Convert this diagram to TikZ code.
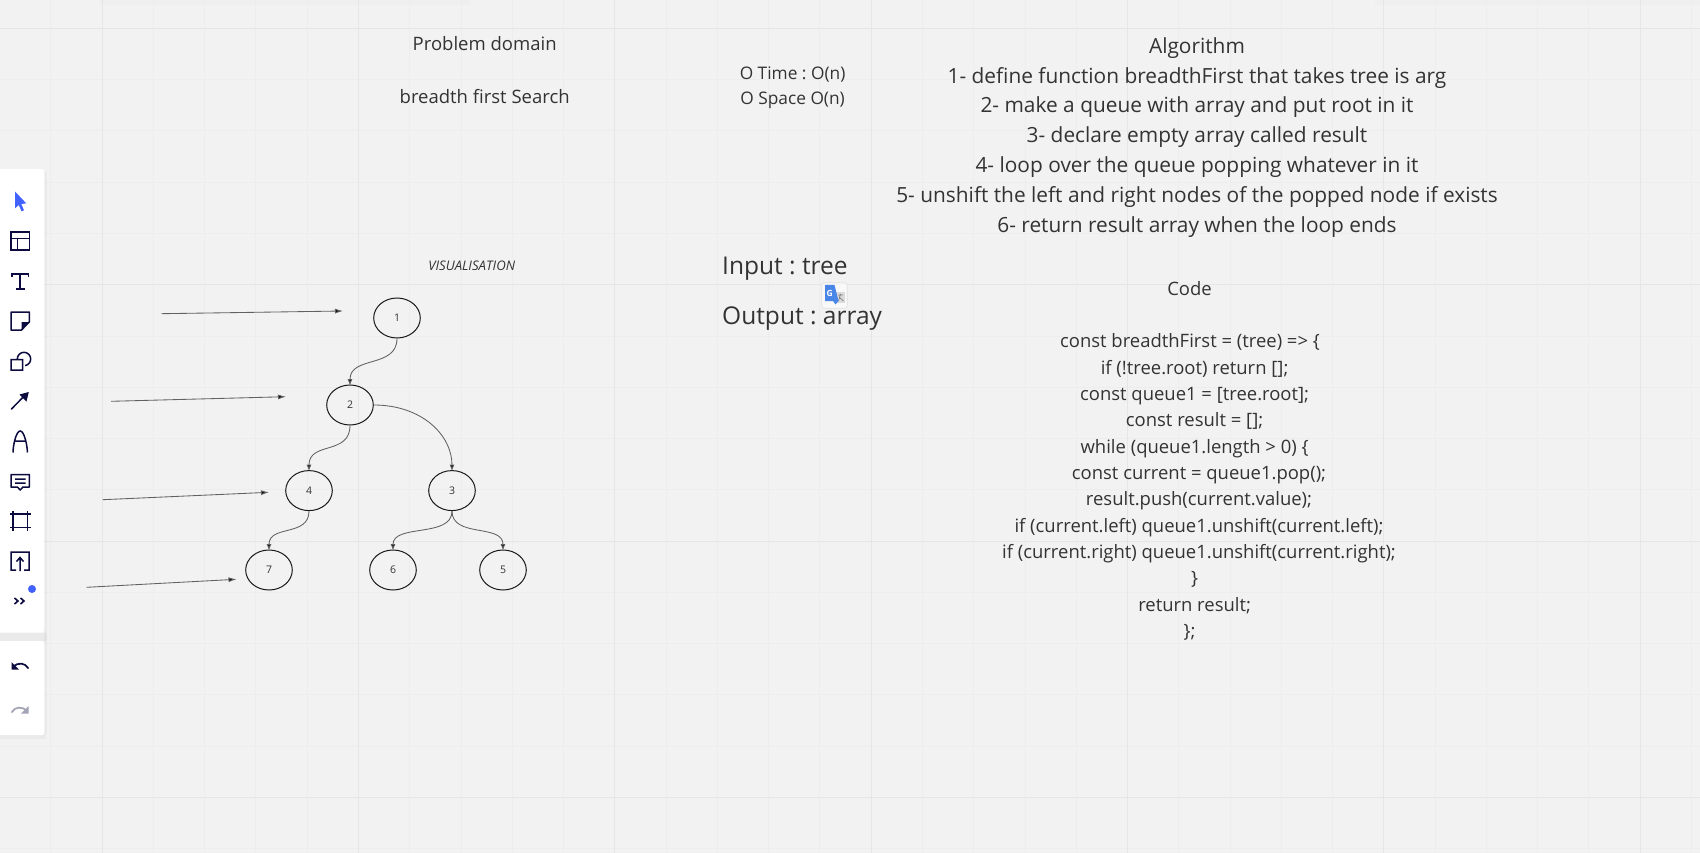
\documentclass[tikz,border=0pt]{standalone}
\usepackage{fontspec}
\setmainfont{Open Sans}
\usetikzlibrary{arrows.meta,shapes.geometric}
\frenchspacing
\definecolor{bgc}{HTML}{F2F2F2}
\definecolor{gridminor}{HTML}{EDEDED}
\definecolor{gridmajor}{HTML}{E6E6E6}
\definecolor{inkc}{HTML}{333333}
\definecolor{navy}{HTML}{0B0B3F}
\definecolor{blueic}{HTML}{4262FF}
\definecolor{greyic}{HTML}{A3A3B8}
\definecolor{gblue}{HTML}{4A86E8}
\tikzset{
  minorline/.style={gridminor,line width=.8pt},
  majorline/.style={gridmajor,line width=1pt},
  lbl/.style={text=inkc,inner sep=0,text height=.72em,text depth=.2em,align=center},
  treenode/.style={ellipse,draw=black!90,line width=1pt,minimum width=46.6pt,minimum height=40pt,inner sep=0,text=inkc,font=\fontsize{10.5}{12}\selectfont},
  edgeline/.style={draw=black!62,line width=.85pt,-{Latex[length=6.5pt,width=5pt,fill=black!92]}},
  freeline/.style={draw=black!62,line width=.85pt,-{Latex[length=8pt,width=5pt,fill=black!92]}},
  panel/.style={fill=white,rounded corners=2.5pt,draw=none},
  ic/.style={draw=navy,line width=1.5pt},
  problem/.style={lbl,font=\fontsize{18.5}{22}\selectfont},
  timetxt/.style={lbl,font=\fontsize{17.3}{20}\selectfont},
  algo/.style={lbl,font=\fontsize{20.86}{26}\selectfont},
  iotxt/.style={lbl,anchor=west,font=\fontsize{24.5}{30}\selectfont},
  codetxt/.style={lbl,font=\fontsize{18.45}{22}\selectfont},
}
\begin{document}
\begin{tikzpicture}[x=1pt,y=-1pt]
\useasboundingbox (0,0) rectangle (1700,853);
\fill[bgc] (0,0) rectangle (1700,853);
% top shadows
\fill[black,opacity=.012] (100,0) rectangle (470,5);
\fill[black,opacity=.012] (1375,0) rectangle (1700,5);
% grid
\foreach \i in {0,...,33}{
  \draw[minorline] ({-0.5+51.27*\i},0) -- ({-0.5+51.27*\i},853);
}
\foreach \i in {0,...,16}{
  \draw[minorline] (0,{28.3+51.27*(\i-0)}) -- (1700,{28.3+51.27*(\i-0)});
}
\foreach \i in {0,...,6}{
  \draw[majorline] ({102+256.35*\i},0) -- ({102+256.35*\i},853);
}
\foreach \i in {0,...,3}{
  \draw[majorline] (0,{28.3+256.35*\i}) -- (1700,{28.3+256.35*\i});
}
% top texts
\node[problem] (pd) at (484.7,47.8) {Problem domain};
\node[problem] (bfs) at (484.7,101) {breadth first Search};
\node[timetxt] (ot) at (792.6,77) {O Time : O(n)};
\node[timetxt] (os) at (792.6,102) {O Space O(n)};
\node[algo] (a0) at (1197,50.8) {Algorithm};
\node[algo] (a1) at (1197,80.6) {1- define function breadthFirst that takes tree is arg};
\node[algo] (a2) at (1197,110) {2- make a queue with array and put root in it};
\node[algo] (a3) at (1197,139.7) {3- declare empty array called result};
\node[algo] (a4) at (1197,170.2) {4- loop over the queue popping whatever in it};
\node[algo] (a5) at (1197,199.8) {5- unshift the left and right nodes of the popped node if exists};
\node[algo] (a6) at (1197,230) {6- return result array when the loop ends};
\node[lbl,font=\fontsize{13.2}{15}\selectfont\itshape] (vis) at (471.7,268) {VISUALISATION};
\node[iotxt] (inp) at (722,271.6) {Input : tree};
\node[iotxt] (outp) at (722,321.8) {Output : array};
% code
\node[codetxt] (c0) at (1189.5,292.7) {Code};
\node[codetxt] (c1) at (1190,344.7) {const breadthFirst = (tree) => \{};
\node[codetxt] (c2) at (1194.6,371.8) {if (!tree.root) return [];};
\node[codetxt] (c3) at (1194.6,397.8) {const queue1 = [tree.root];};
\node[codetxt] (c4) at (1194.6,423.8) {const result = [];};
\node[codetxt] (c5) at (1194.6,450.9) {while (queue1.length > 0) \{};
\node[codetxt] (c6) at (1199,476.9) {const current = queue1.pop();};
\node[codetxt] (c7) at (1199,502.9) {result.push(current.value);};
\node[codetxt] (c8) at (1199,530) {if (current.left) queue1.unshift(current.left);};
\node[codetxt] (c9) at (1199,556.1) {if (current.right) queue1.unshift(current.right);};
\node[codetxt] (c10) at (1194.6,582.1) {\}};
\node[codetxt] (c11) at (1194.6,609.2) {return result;};
\node[codetxt] (c12) at (1189.5,635.2) {\};};
% tree
\node[treenode] (n1) at (397,318) {1};
\node[treenode] (n2) at (350,405) {2};
\node[treenode] (n4) at (309,490.6) {4};
\node[treenode] (n3) at (452,490.6) {3};
\node[treenode] (n7) at (269,570) {7};
\node[treenode] (n6) at (393,570) {6};
\node[treenode] (n5) at (503,570) {5};
\draw[edgeline] (n1.south) .. controls +(0,30) and +(0,-30) .. ([yshift=-1pt]n2.north);
\draw[edgeline] (n2.south) .. controls +(0,30) and +(0,-30) .. ([yshift=-1pt]n4.north);
\draw[edgeline] (n2.east) .. controls +(48,0) and +(0,-36) .. ([yshift=-1pt]n3.north);
\draw[edgeline] (n4.south) .. controls +(0,26) and +(0,-26) .. ([yshift=-1pt]n7.north);
\draw[edgeline] (n3.south) .. controls +(0,27) and +(0,-27) .. ([yshift=-1pt]n6.north);
\draw[edgeline] (n3.south) .. controls +(0,27) and +(0,-27) .. ([yshift=-1pt]n5.north);
% free arrows
\coordinate (f1a) at (161.3,313.7); \coordinate (f1b) at (343,311);
\coordinate (f2a) at (111,401.3);   \coordinate (f2b) at (286,396.7);
\coordinate (f3a) at (102.7,499.7); \coordinate (f3b) at (269,492.3);
\coordinate (f4a) at (86.5,587.3);  \coordinate (f4b) at (236.5,579.3);
\draw[freeline] (f1a) -- (f1b);
\draw[freeline] (f2a) -- (f2b);
\draw[freeline] (f3a) -- (f3b);
\draw[freeline] (f4a) -- (f4b);
% toolbar
\fill[black,opacity=.03] (0,633) rectangle (47,641);
\fill[black,opacity=.03] (44,172) rectangle (47,735);
\fill[black,opacity=.03] (0,735) rectangle (46,739);
\path[panel] (-5,169) rectangle (44.3,632.5);
\path[panel] (-5,641) rectangle (44.3,735);
% cursor
\fill[blueic] (15,191.5) -- (26.3,203.4) -- (21.3,204) -- (24,210.3) -- (21.5,211.3) -- (18.8,205) -- (15,208.3) -- cycle;
% layout
\draw[ic] (11,232) rectangle (29.3,250) (11,238.5) -- (29.3,238.5) (17.3,238.5) -- (17.3,250);
% T
\draw[ic] (12,277) -- (12,274) -- (28.5,274) -- (28.5,277) (20.2,274) -- (20.2,289) (16,289) -- (24.5,289);
% sticky
\draw[ic,line join=round] (11,312) -- (29.3,312) -- (29.3,322) -- (21.5,330) -- (11,330) -- cycle;
\fill[navy] (29.3,322) -- (21.5,330) -- (21.5,322) -- cycle;
% shapes
\draw[ic] (11,359.5) rectangle (22.5,370) (17.3,359) arc[start angle=180,end angle=440,radius=6.7];
% arrow
\draw[ic,line cap=round] (11.5,409) -- (24,396.2);
\fill[navy] (28.8,392) -- (26.5,401.5) -- (19.5,394.5) -- cycle;
% pen
\draw[ic] (13,452.5) .. controls (13,446) and (16,431) .. (20.2,431) .. controls (24.4,431) and (27.4,446) .. (27.4,452.5) (15.5,441) -- (25,441);
% comment
\draw[ic,line join=round] (11,474.5) -- (29.3,474.5) -- (29.3,487) -- (23,487) -- (20.2,490) -- (17.4,487) -- (11,487) -- cycle (15,479) -- (25.5,479) (15,483) -- (25.5,483);
% frame
\draw[ic] (10,514) -- (31,514) (10,527.5) -- (31,527.5) (13,511) -- (13,531) (27.5,511) -- (27.5,531);
% export
\draw[ic] (16,570) -- (11,570) -- (11,552) -- (29,552) -- (29,570) -- (24,570) (20,571) -- (20,558) (16.5,561.5) -- (20,557.5) -- (23.5,561.5);
% more
\draw[navy,line width=1.6pt] (14.5,598) -- (18,601) -- (14.5,604) (20.5,598) -- (24,601) -- (20.5,604);
\fill[blueic] (32,589) circle[radius=4];
% undo
\draw[ic,line width=1.7pt] (28.5,668.5) .. controls (25,662.5) and (18,662) .. (13,667);
\fill[navy] (11.5,662) -- (11.5,669.5) -- (19,669.5) -- cycle;
% redo
\draw[greyic,line width=1.7pt] (11.5,712.5) .. controls (15,706.5) and (22,706) .. (27,711);
\fill[greyic] (28.5,706) -- (28.5,713.5) -- (21,713.5) -- cycle;
% translate badge
\fill[white,opacity=.6,rounded corners=2.5pt] (821.7,282.7) rectangle (847.3,308.3);
\draw[black!12,line width=.7pt,rounded corners=2.5pt] (821.7,282.7) rectangle (847.3,308.3);
\fill[black!14] (834,292) rectangle (845,303);
\draw[black!50,line width=.7pt] (838,295) -- (843,295) (840.5,294) -- (838.5,301) (839,297) -- (843.5,301);
\fill[gblue] (825,284.8) -- (834.5,284.8) -- (838.5,301) -- (835.5,304.5) -- (833,301) -- (825,301) -- cycle;
\node[inner sep=0,text=white,font=\fontsize{8.5}{10}\selectfont\bfseries] (gg) at (829.8,293.2) {G};
\end{tikzpicture}
\end{document}
